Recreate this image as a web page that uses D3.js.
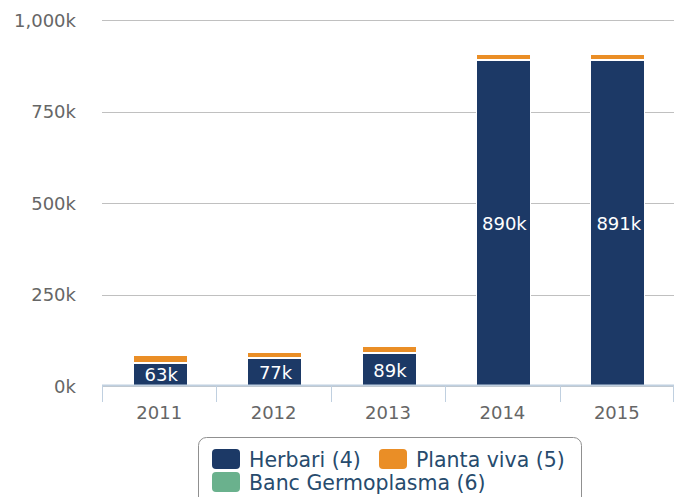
<!DOCTYPE html>
<html>
<head>
<meta charset="utf-8">
<script src="https://cdn.jsdelivr.net/npm/d3@7"></script>
<style>
  body { margin: 0; background: #fff; }
  text { font-family: "DejaVu Sans", sans-serif; }
</style>
</head>
<body>
<div id="chart"></div>
<script>
// values in thousands
var years = ["2011", "2012", "2013", "2014", "2015"];
var herbari = [63, 77, 89, 890, 891];
var plantaViva = [22, 16, 19, 16, 17];
var bancGermoplasma = [0, 0, 0, 0, 0];
var yTicks = [0, 250, 500, 750, 1000];

var seriesNames = ["Herbari (4)", "Planta viva (5)", "Banc Germoplasma (6)"];
var seriesColors = ["#1c3966", "#ea8e26", "#6ab18d"];

var W = 674, H = 497;
var margin = {top: 20, right: 0, bottom: 111, left: 102},
    width = W - margin.left - margin.right,
    height = H - margin.top - margin.bottom;

var svg = d3.select("#chart").append("svg")
    .attr("width", W)
    .attr("height", H);

var g = svg.append("g")
    .attr("transform", "translate(" + margin.left + "," + margin.top + ")");

var x = d3.scaleBand()
    .domain(years)
    .range([0, width])
    .paddingInner(0.52)
    .paddingOuter(0.26);

var y = d3.scaleLinear()
    .domain([0, 1000])
    .range([height, 0]);

// gridlines
g.append("g")
  .selectAll("line")
  .data(yTicks)
  .enter().append("line")
    .attr("x1", 0)
    .attr("x2", width)
    .attr("y1", function(d) { return Math.round(y(d)) + 0.5; })
    .attr("y2", function(d) { return Math.round(y(d)) + 0.5; })
    .attr("stroke", "#c0c0c0")
    .attr("stroke-width", 1);

// y labels
g.append("g")
  .selectAll("text")
  .data(yTicks)
  .enter().append("text")
    .attr("x", -26)
    .attr("y", function(d) { return y(d) + 6.5; })
    .attr("text-anchor", "end")
    .attr("font-size", "18px")
    .attr("fill", "#666")
    .text(function(d) { return d3.format(",")(d) + "k"; });

// stacked data
var table = years.map(function(yr, i) {
  return {year: yr, s0: herbari[i], s1: plantaViva[i], s2: bancGermoplasma[i]};
});
var stack = d3.stack().keys(["s0", "s1", "s2"]);
var layers = stack(table);

var layer = g.selectAll(".layer")
  .data(layers)
  .enter().append("g")
    .attr("class", "layer")
    .attr("fill", function(d, i) { return seriesColors[i]; });

layer.selectAll("rect")
  .data(function(d) { return d; })
  .enter().append("rect")
    .attr("x", function(d) { return Math.round(x(d.data.year)) + 1.5; })
    .attr("width", Math.round(x.bandwidth()) - 1)
    .attr("y", function(d) { return Math.round(y(d[1])) + 0.5; })
    .attr("height", function(d) { return Math.max(0, Math.round(y(d[0])) - Math.round(y(d[1])) - 1); })
    .attr("stroke", "#fff")
    .attr("stroke-width", 1);

// data labels in Herbari bars
g.append("g")
  .selectAll("text")
  .data(layers[0])
  .enter().append("text")
    .attr("x", function(d) { return x(d.data.year) + x.bandwidth() / 2 + 2; })
    .attr("y", function(d) { return (y(d[0]) + y(d[1])) / 2 + 7; })
    .attr("text-anchor", "middle")
    .attr("font-size", "18px")
    .attr("fill", "#fff")
    .text(function(d) { return d.data.s0 + "k"; });

// x axis
var xAxisG = g.append("g")
    .attr("transform", "translate(0," + height + ")");

xAxisG.append("line")
    .attr("x1", 0)
    .attr("x2", width)
    .attr("y1", -0.5)
    .attr("y2", -0.5)
    .attr("stroke", "#c0d0e0")
    .attr("stroke-width", 2);

var step = x.step();
xAxisG.selectAll(".tick")
  .data(d3.range(years.length + 1))
  .enter().append("line")
    .attr("class", "tick")
    .attr("x1", function(i) { return Math.round(i * step) + (i === years.length ? -0.5 : 0.5); })
    .attr("x2", function(i) { return Math.round(i * step) + (i === years.length ? -0.5 : 0.5); })
    .attr("y1", 0)
    .attr("y2", 16)
    .attr("stroke", "#c0d0e0")
    .attr("stroke-width", 1);

xAxisG.selectAll(".xlabel")
  .data(years)
  .enter().append("text")
    .attr("class", "xlabel")
    .attr("x", function(d) { return x(d) + x.bandwidth() / 2; })
    .attr("y", 33)
    .attr("text-anchor", "middle")
    .attr("font-size", "18px")
    .attr("fill", "#666")
    .text(function(d) { return d; });

// legend
var legend = svg.append("g");
legend.append("rect")
    .attr("x", 198.5)
    .attr("y", 437.5)
    .attr("width", 383)
    .attr("height", 80)
    .attr("rx", 8)
    .attr("fill", "#fff")
    .attr("stroke", "#909090")
    .attr("stroke-width", 1);

var legendPos = [[212, 449], [379, 449], [212, 472]];
var items = legend.selectAll(".item")
  .data(seriesNames)
  .enter().append("g")
    .attr("class", "item")
    .attr("transform", function(d, i) { return "translate(" + legendPos[i][0] + "," + legendPos[i][1] + ")"; });

items.append("rect")
    .attr("width", 28)
    .attr("height", 20)
    .attr("rx", 4)
    .attr("fill", function(d, i) { return seriesColors[i]; });

items.append("text")
    .attr("x", 37)
    .attr("y", 17.5)
    .attr("font-size", "20.5px")
    .attr("fill", "#274b6d")
    .text(function(d) { return d; });
</script>
</body>
</html>
